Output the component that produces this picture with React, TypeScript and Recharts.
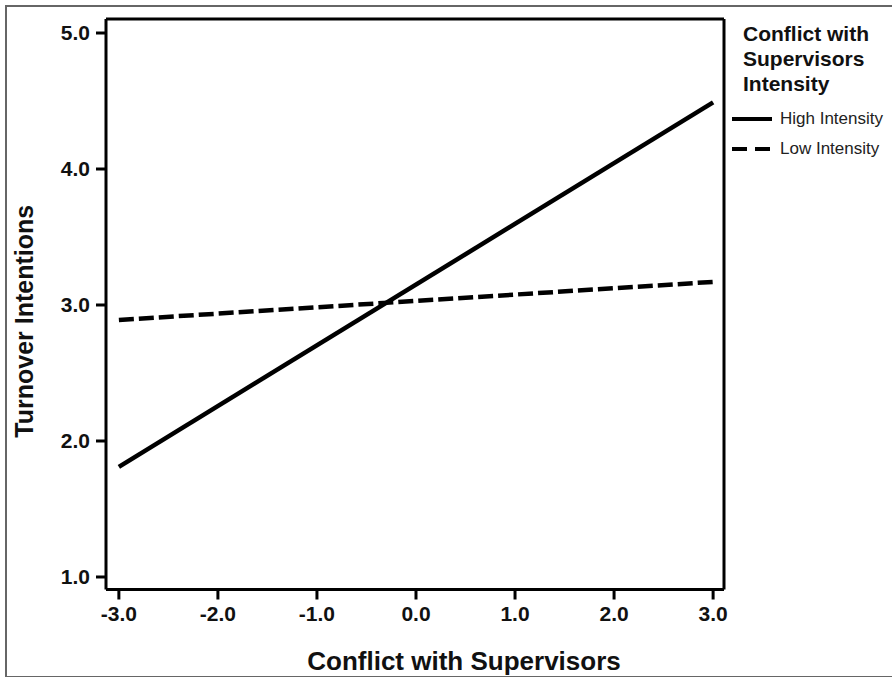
import { LineChart, Line, XAxis, YAxis, ReferenceLine, Label } from 'recharts';

// values (simple slopes at -3 / +3)
const xValues = [-3, 3];
const highIntensity = [1.81, 4.49];
const lowIntensity = [2.89, 3.17];
const xTicks = [-3, -2, -1, 0, 1, 2, 3];
const yTicks = [1, 2, 3, 4, 5];

const xDomain: [number, number] = [-3.13, 3.11];
const yDomain: [number, number] = [0.908, 5.103];

const data = xValues.map((x, i) => ({ x, high: highIntensity[i], low: lowIntensity[i] }));

const FONT = '"Liberation Sans", Arial, sans-serif';
const fmt = (v: number) => v.toFixed(1);

function LegendBox() {
  return (
    <div style={{ position: 'absolute', left: 732, top: 20.5, width: 160, fontFamily: FONT, color: '#111' }}>
      <div style={{ fontSize: 21, fontWeight: 'bold', lineHeight: '25px', marginLeft: 11 }}>
        Conflict with
        <br />
        Supervisors
        <br />
        Intensity
      </div>
      <div style={{ display: 'flex', alignItems: 'center', marginTop: 8, height: 30 }}>
        <svg width={40} height={6} style={{ marginRight: 8 }}>
          <line x1={0} y1={3} x2={40} y2={3} stroke="#000" strokeWidth={4} />
        </svg>
        <span style={{ fontSize: 17, color: '#222' }}>High Intensity</span>
      </div>
      <div style={{ display: 'flex', alignItems: 'center', height: 30 }}>
        <svg width={40} height={6} style={{ marginRight: 8 }}>
          <line x1={0} y1={3} x2={40} y2={3} stroke="#000" strokeWidth={4} strokeDasharray="15 8" />
        </svg>
        <span style={{ fontSize: 17, color: '#222' }}>Low Intensity</span>
      </div>
    </div>
  );
}

export default function App() {
  return (
    <div style={{ position: 'absolute', left: 0, top: 0, width: 892, height: 677, background: '#fff', overflow: 'hidden' }}>
      <div
        style={{
          position: 'absolute',
          left: 5,
          top: 5,
          width: 900,
          height: 669,
          borderLeft: '2px solid #666',
          borderTop: '2px solid #666',
          borderBottom: '2px solid #666',
        }}
      />
      <LineChart
        width={892}
        height={677}
        data={data}
        margin={{ top: 19, right: 168, left: 0, bottom: 47.5 }}
        style={{ position: 'absolute', left: 0, top: 0, fontFamily: FONT }}
      >
        <XAxis
          dataKey="x"
          type="number"
          domain={xDomain}
          ticks={xTicks}
          allowDataOverflow
          tickFormatter={fmt}
          height={40}
          tickSize={10}
          tickMargin={7}
          axisLine={{ stroke: '#000', strokeWidth: 3 }}
          tickLine={{ stroke: '#000', strokeWidth: 3 }}
          tick={{ fill: '#111', fontSize: 21, fontWeight: 600 }}
        >
          <Label
            content={({ viewBox }: any) => (
              <text
                x={viewBox.x + viewBox.width / 2 + 49}
                y={670}
                textAnchor="middle"
                fontFamily={FONT}
                fontSize={26}
                fontWeight="bold"
                fill="#111"
              >
                Conflict with Supervisors
              </text>
            )}
          />
        </XAxis>
        <YAxis
          type="number"
          domain={yDomain}
          ticks={yTicks}
          allowDataOverflow
          tickFormatter={fmt}
          width={106}
          tickSize={10}
          tickMargin={6}
          axisLine={{ stroke: '#000', strokeWidth: 3 }}
          tickLine={{ stroke: '#000', strokeWidth: 3 }}
          tick={{ fill: '#111', fontSize: 21, fontWeight: 600 }}
        >
          <Label
            content={({ viewBox }: any) => {
              const cx = 33;
              const cy = viewBox.y + viewBox.height / 2 + 17;
              return (
                <text
                  x={cx}
                  y={cy}
                  transform={`rotate(-90 ${cx} ${cy})`}
                  textAnchor="middle"
                  fontFamily={FONT}
                  fontSize={25}
                  fontWeight="bold"
                  fill="#111"
                >
                  Turnover Intentions
                </text>
              );
            }}
          />
        </YAxis>
        <ReferenceLine x={xDomain[1]} stroke="#000" strokeWidth={3} />
        <ReferenceLine y={yDomain[1]} stroke="#000" strokeWidth={3} />
        <Line
          dataKey="high"
          name="High Intensity"
          stroke="#000"
          strokeWidth={4.5}
          dot={false}
          activeDot={false}
          isAnimationActive={false}
        />
        <Line
          dataKey="low"
          name="Low Intensity"
          stroke="#000"
          strokeWidth={4.5}
          strokeDasharray="15 5"
          dot={false}
          activeDot={false}
          isAnimationActive={false}
        />
      </LineChart>
      <LegendBox />
    </div>
  );
}
